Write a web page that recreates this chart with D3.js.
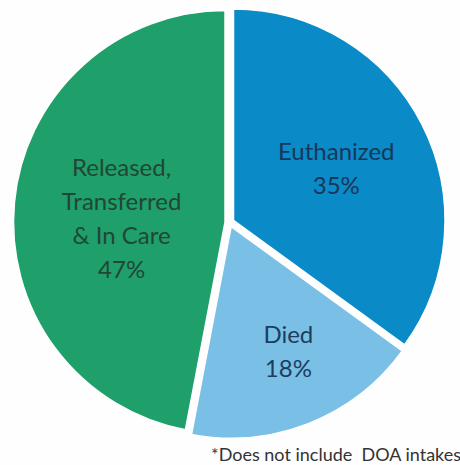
<!DOCTYPE html>
<html>
<head>
<meta charset="utf-8">
<script src="https://cdn.jsdelivr.net/npm/d3@7"></script>
<style>
  body { margin: 0; background: #fefefe; }
  text { font-family: Lato, "Open Sans", sans-serif; }
</style>
</head>
<body>
<div id="chart"></div>
<script>
// slice data, clockwise from 12 o'clock
var categories = ["Euthanized", "Died", "Released, Transferred & In Care"]
var values = [35, 18, 47]
var labelLines = [
    ["Euthanized", "35%"],
    ["Died", "18%"],
    ["Released,", "Transferred", "& In Care", "47%"]
]
var colors = ["#0a8ac6", "#7ac0e6", "#1fa06a"]
var textColors = ["#17375a", "#1d3d5e", "#224636"]
var footnote = "*Does not include  DOA intakes"

var width = 460, height = 465
var cx = 229.5, cy = 222.5, radius = 211.5
var explode = 4.5

// where each label block sits: distance from centre and small angle nudge (deg)
var labelDist = [116, 150, 108]
var labelNudge = [4, -1.5, -7.8]

var svg = d3.select("#chart")
    .append("svg")
    .attr("width", width)
    .attr("height", height)

var g = svg.append("g")
    .attr("transform", "translate(" + cx + "," + cy + ")")

var pie = d3.pie().sort(null).value(function (d) { return d })
var arcs = pie(values)

var arc = d3.arc().innerRadius(0).outerRadius(radius)

function dir(a) { return [Math.sin(a), -Math.cos(a)] }

// slices, pulled out a little along their middle angle
g.selectAll("path")
    .data(arcs)
    .enter()
    .append("path")
    .attr("d", arc)
    .attr("transform", function (d) {
        var m = dir((d.startAngle + d.endAngle) / 2)
        return "translate(" + (m[0] * explode) + "," + (m[1] * explode) + ")"
    })
    .style("fill", function (d, i) { return colors[i] })
    .style("stroke", "#ffffff")
    .style("stroke-width", 1.5)

// labels
var lineH = 34
arcs.forEach(function (d, i) {
    var a = (d.startAngle + d.endAngle) / 2 + labelNudge[i] * Math.PI / 180
    var m = dir(a)
    var x = m[0] * labelDist[i], y = m[1] * labelDist[i]
    var lines = labelLines[i]
    var t = g.append("text")
        .attr("text-anchor", "middle")
        .style("font-size", "24px")
        .style("fill", textColors[i])
    lines.forEach(function (s, k) {
        t.append("tspan")
            .attr("x", x)
            .attr("y", y + (k - (lines.length - 1) / 2) * lineH)
            .text(s)
    })
})

svg.append("text")
    .attr("x", 211)
    .attr("y", 461)
    .style("font-size", "18px")
    .style("fill", "#333333")
    .style("white-space", "pre")
    .attr("xml:space", "preserve")
    .text(footnote)
</script>
</body>
</html>
